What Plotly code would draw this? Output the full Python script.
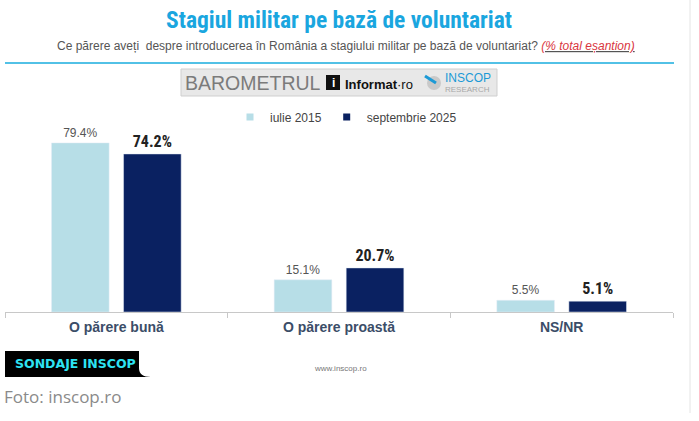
import plotly.graph_objects as go

# date sondaj INSCOP
categorii = ["O părere bună", "O părere proastă", "NS/NR"]
iulie_2015 = [79.4, 15.1, 5.5]
septembrie_2025 = [74.2, 20.7, 5.1]
serii = ["iulie 2015", "septembrie 2025"]

W, H = 699, 421
ML, MR, MT, MB = 5, 26, 99, 109
PW = W - ML - MR
PH = H - MT - MB


def px(x):
    # pixel orizontal -> coordonata paper
    return (x - ML) / PW


def py(y):
    # pixel vertical -> coordonata paper
    return (H - MB - y) / PH


culoare_deschis = "#B7DEE7"
culoare_inchis = "#0A2161"
narrow = "Liberation Sans Narrow, Roboto Condensed, Liberation Sans, Arial"
arial = "Liberation Sans, Arial"


def text(t, x, y, size, color, family=arial, xanchor="center"):
    fig.add_annotation(
        text=t, x=px(x), y=py(y), xref="paper", yref="paper",
        xanchor=xanchor, yanchor="middle", showarrow=False,
        font=dict(family=family, size=size, color=color),
    )


fig = go.Figure()

fig.add_trace(go.Bar(
    x=categorii, y=iulie_2015, name=serii[0],
    marker_color=culoare_deschis, showlegend=False,
    texttemplate="%{y:.1f}%", textposition="outside",
    outsidetextfont=dict(family=arial, size=12, color="#555555"),
    cliponaxis=False,
))
fig.add_trace(go.Bar(
    x=categorii, y=septembrie_2025, name=serii[1],
    marker_color=culoare_inchis, showlegend=False,
    texttemplate="<b>%{y:.1f}%</b>", textposition="outside",
    outsidetextfont=dict(family=narrow, size=16, color="#222222"),
    cliponaxis=False,
))

# intrari de legenda cu patrate mici
for nume, culoare in zip(serii, [culoare_deschis, culoare_inchis]):
    fig.add_trace(go.Scatter(
        x=[None], y=[None], mode="markers", name=nume,
        marker=dict(symbol="square", size=7, color=culoare),
    ))

fig.update_layout(
    width=W, height=H,
    margin=dict(l=ML, r=MR, t=MT, b=MB),
    paper_bgcolor="white", plot_bgcolor="white",
    barmode="group", bargap=0.353, bargroupgap=0.2,
    font=dict(family=arial, color="#444444"),
    legend=dict(
        orientation="h", x=px(346), xanchor="center",
        y=py(117), yanchor="middle",
        font=dict(family=arial, size=12, color="#444444"),
        itemwidth=30, tracegroupgap=0, bgcolor="rgba(0,0,0,0)",
    ),
    xaxis=dict(
        showline=True, linecolor="#C8C8C8", linewidth=1,
        ticks="outside", tickson="boundaries", ticklen=5, tickcolor="#C8C8C8",
        ticklabelstandoff=2,
        tickfont=dict(family=arial, size=14, color="#3B4D68", weight="bold"),
        showgrid=False, fixedrange=True,
    ),
    yaxis=dict(range=[0, 100], visible=False, showgrid=False, fixedrange=True),
)

# titlu si subtitlu
text("<b>Stagiul militar pe bază de voluntariat</b>", 339, 20, 23.5, "#1AA6DF", narrow)
text("Ce părere aveți  despre introducerea în România a stagiului militar pe bază de voluntariat? "
     "<i><u><span style='color:#D9363E'>(% total eșantion)</span></u></i>",
     346, 46, 12, "#555555")
fig.add_shape(type="line", xref="paper", yref="paper",
              x0=px(5), x1=px(674), y0=py(63), y1=py(63),
              line=dict(color="#52C1E6", width=2))

# linia gri din dreapta
fig.add_shape(type="line", xref="paper", yref="paper",
              x0=px(690), x1=px(690), y0=py(0), y1=py(413),
              line=dict(color="#E4E4E4", width=1))

# sigla barometrului
fig.add_shape(type="rect", xref="paper", yref="paper",
              x0=px(181), x1=px(497), y0=py(96), y1=py(69),
              fillcolor="#E8E8E8", line=dict(color="#CFCFCF", width=1))
text("BAROMETRUL", 183, 83, 19.5, "#7B7B7B", xanchor="left")
fig.add_shape(type="rect", xref="paper", yref="paper",
              x0=px(326), x1=px(340), y0=py(90), y1=py(75),
              fillcolor="#111111", line=dict(width=0))
text("<b>i</b>", 333, 83, 12, "white")
text("<b>Informat</b>·ro", 343, 84, 13, "#111111", xanchor="left")
fig.add_shape(type="circle", xref="paper", yref="paper",
              x0=px(427), x1=px(441), y0=py(90), y1=py(76),
              fillcolor="#C9C9C9", line=dict(width=0))
fig.add_shape(type="line", xref="paper", yref="paper",
              x0=px(425), x1=px(436), y0=py(76), y1=py(83),
              line=dict(color="#1C9AD6", width=3))
text("INSCOP", 443, 78, 12, "#1C9AD6", xanchor="left")
text("RESEARCH", 443, 89, 8, "#A8A8A8", xanchor="left")

# eticheta SONDAJE INSCOP
fig.add_shape(type="path", xref="paper", yref="paper",
              path=f"M {px(5)},{py(351)} L {px(139)},{py(351)} "
                   f"L {px(139)},{py(368)} Q {px(139)},{py(377)} {px(151)},{py(377)} "
                   f"L {px(5)},{py(377)} Z",
              fillcolor="#000000", line=dict(width=0))
text("<b>SONDAJE INSCOP</b>", 13, 363, 12.5, "#2DE2F2", "DejaVu Sans, Liberation Sans", "left")
text("www.inscop.ro", 340, 368, 8, "#777777", "Liberation Sans Narrow, Liberation Sans")
text("Foto: inscop.ro", 2, 396, 17, "#8A8A8A", "Open Sans, Noto Sans", "left")

fig.write_html("out.html", config={"displayModeBar": False},
               post_script="document.body.style.margin='0';")
